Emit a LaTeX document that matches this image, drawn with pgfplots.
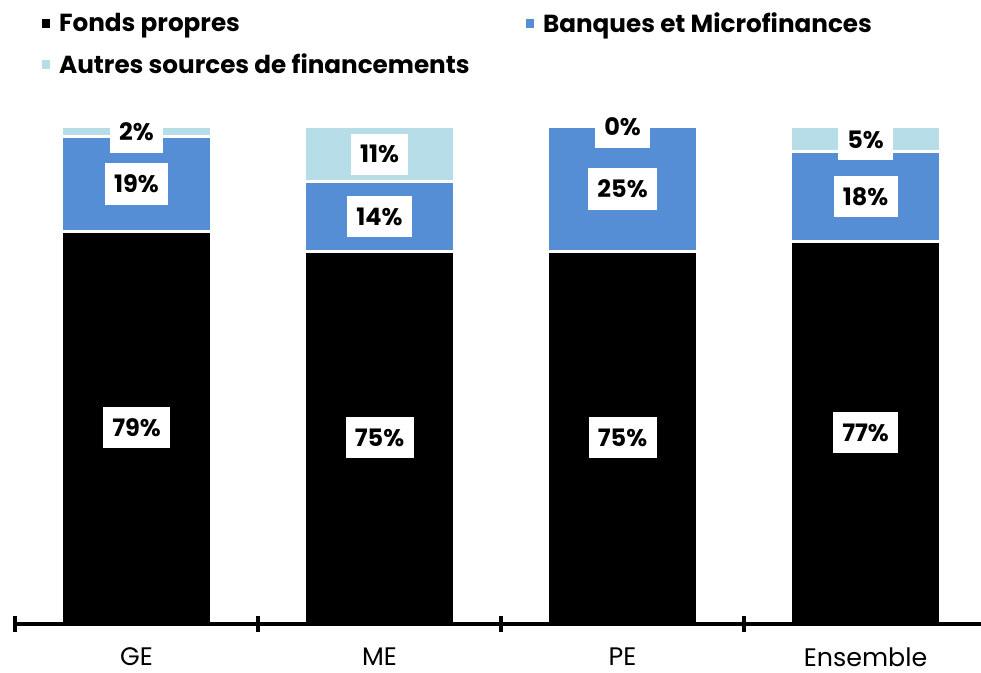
\documentclass[border=0pt]{standalone}
\usepackage{pgfplots}
\pgfplotsset{compat=1.18}
\usepackage{fontspec}
\setmainfont{Poppins}
\definecolor{cblue}{RGB}{85,142,213}
\definecolor{clight}{RGB}{183,222,232}
\newcommand{\tl}[1]{{\fontsize{19}{22}\selectfont #1}}
\begin{document}
\begin{tikzpicture}
\pgfplotsset{
  base/.style={
    scale only axis, width=724.5pt, height=372.75pt,
    xmin=-0.5, xmax=3.475, ymin=0, ymax=100,
  }
}
\begin{axis}[base,
  ybar stacked, bar width=112.5pt,
  axis on top,
  axis x line*=bottom, axis y line=none,
  x axis line style={line width=3pt, black},
  xtick={-0.5,0.5,1.5,2.5}, xticklabels={},
  major tick length=12pt, tick align=center,
  major x tick style={line width=3pt, black},
  extra x ticks={0,1,2,3},
  extra x tick labels={\tl{GE},\tl{ME},\tl{PE},\tl{Ensemble}},
  extra x tick style={major tick length=0pt, major x tick style={draw=none}},
  xticklabel style={yshift=-14pt},
  /pgf/number format/assume math mode=true,
  legend columns=2,
  legend cell align=left,
  legend image code/.code={\path[#1,draw=none] (0pt,-3.3pt) rectangle (6.6pt,3.3pt);},
  legend style={at={(axis description cs:0.0276,1.2354)}, anchor=north west,
     draw=none, inner sep=0pt, outer sep=0pt,
     font=\fontsize{18.5}{22}\selectfont\bfseries,
     row sep=10.5pt,
     /tikz/every odd column/.append style={column sep=4.5pt},
     /tikz/every even column/.append style={column sep=40pt}},
]
\addplot[fill=black, draw=white, line width=2.25pt] coordinates {(0,79) (1,75) (2,75) (3,77)};
\addlegendentry{Fonds propres}
\addplot[fill=cblue, draw=white, line width=2.25pt] coordinates {(0,19) (1,14) (2,25) (3,18)};
\addlegendentry{Banques et Microfinances}
\addplot[fill=clight, draw=white, line width=2.25pt] coordinates {(0,2) (1,11) (2,0) (3,5)};
\addlegendentry{Autres sources de financements}
\end{axis}
\begin{axis}[base, hide axis, clip=false]
\addplot[only marks, mark=none, nodes near coords, point meta=explicit symbolic,
  nodes near coords style={anchor=center, fill=white, text=black,
     font=\fontsize{18}{21}\selectfont\bfseries, inner xsep=7pt, minimum height=31pt}]
  coordinates {
  (0,39.5)[79\%] (0,88.5)[19\%] (0,99)[2\%]
  (1,37.5)[75\%] (1,82)[14\%] (1,94.5)[11\%]
  (2,37.5)[75\%] (2,87.5)[25\%] (2,100)[0\%]
  (3,38.5)[77\%] (3,86)[18\%] (3,97.5)[5\%]
  };
\end{axis}
\pgfresetboundingbox
\path ([xshift=-11.25pt,yshift=-36.75pt]current axis.south west) rectangle ([yshift=95.25pt]current axis.north east);
\end{tikzpicture}
\end{document}
